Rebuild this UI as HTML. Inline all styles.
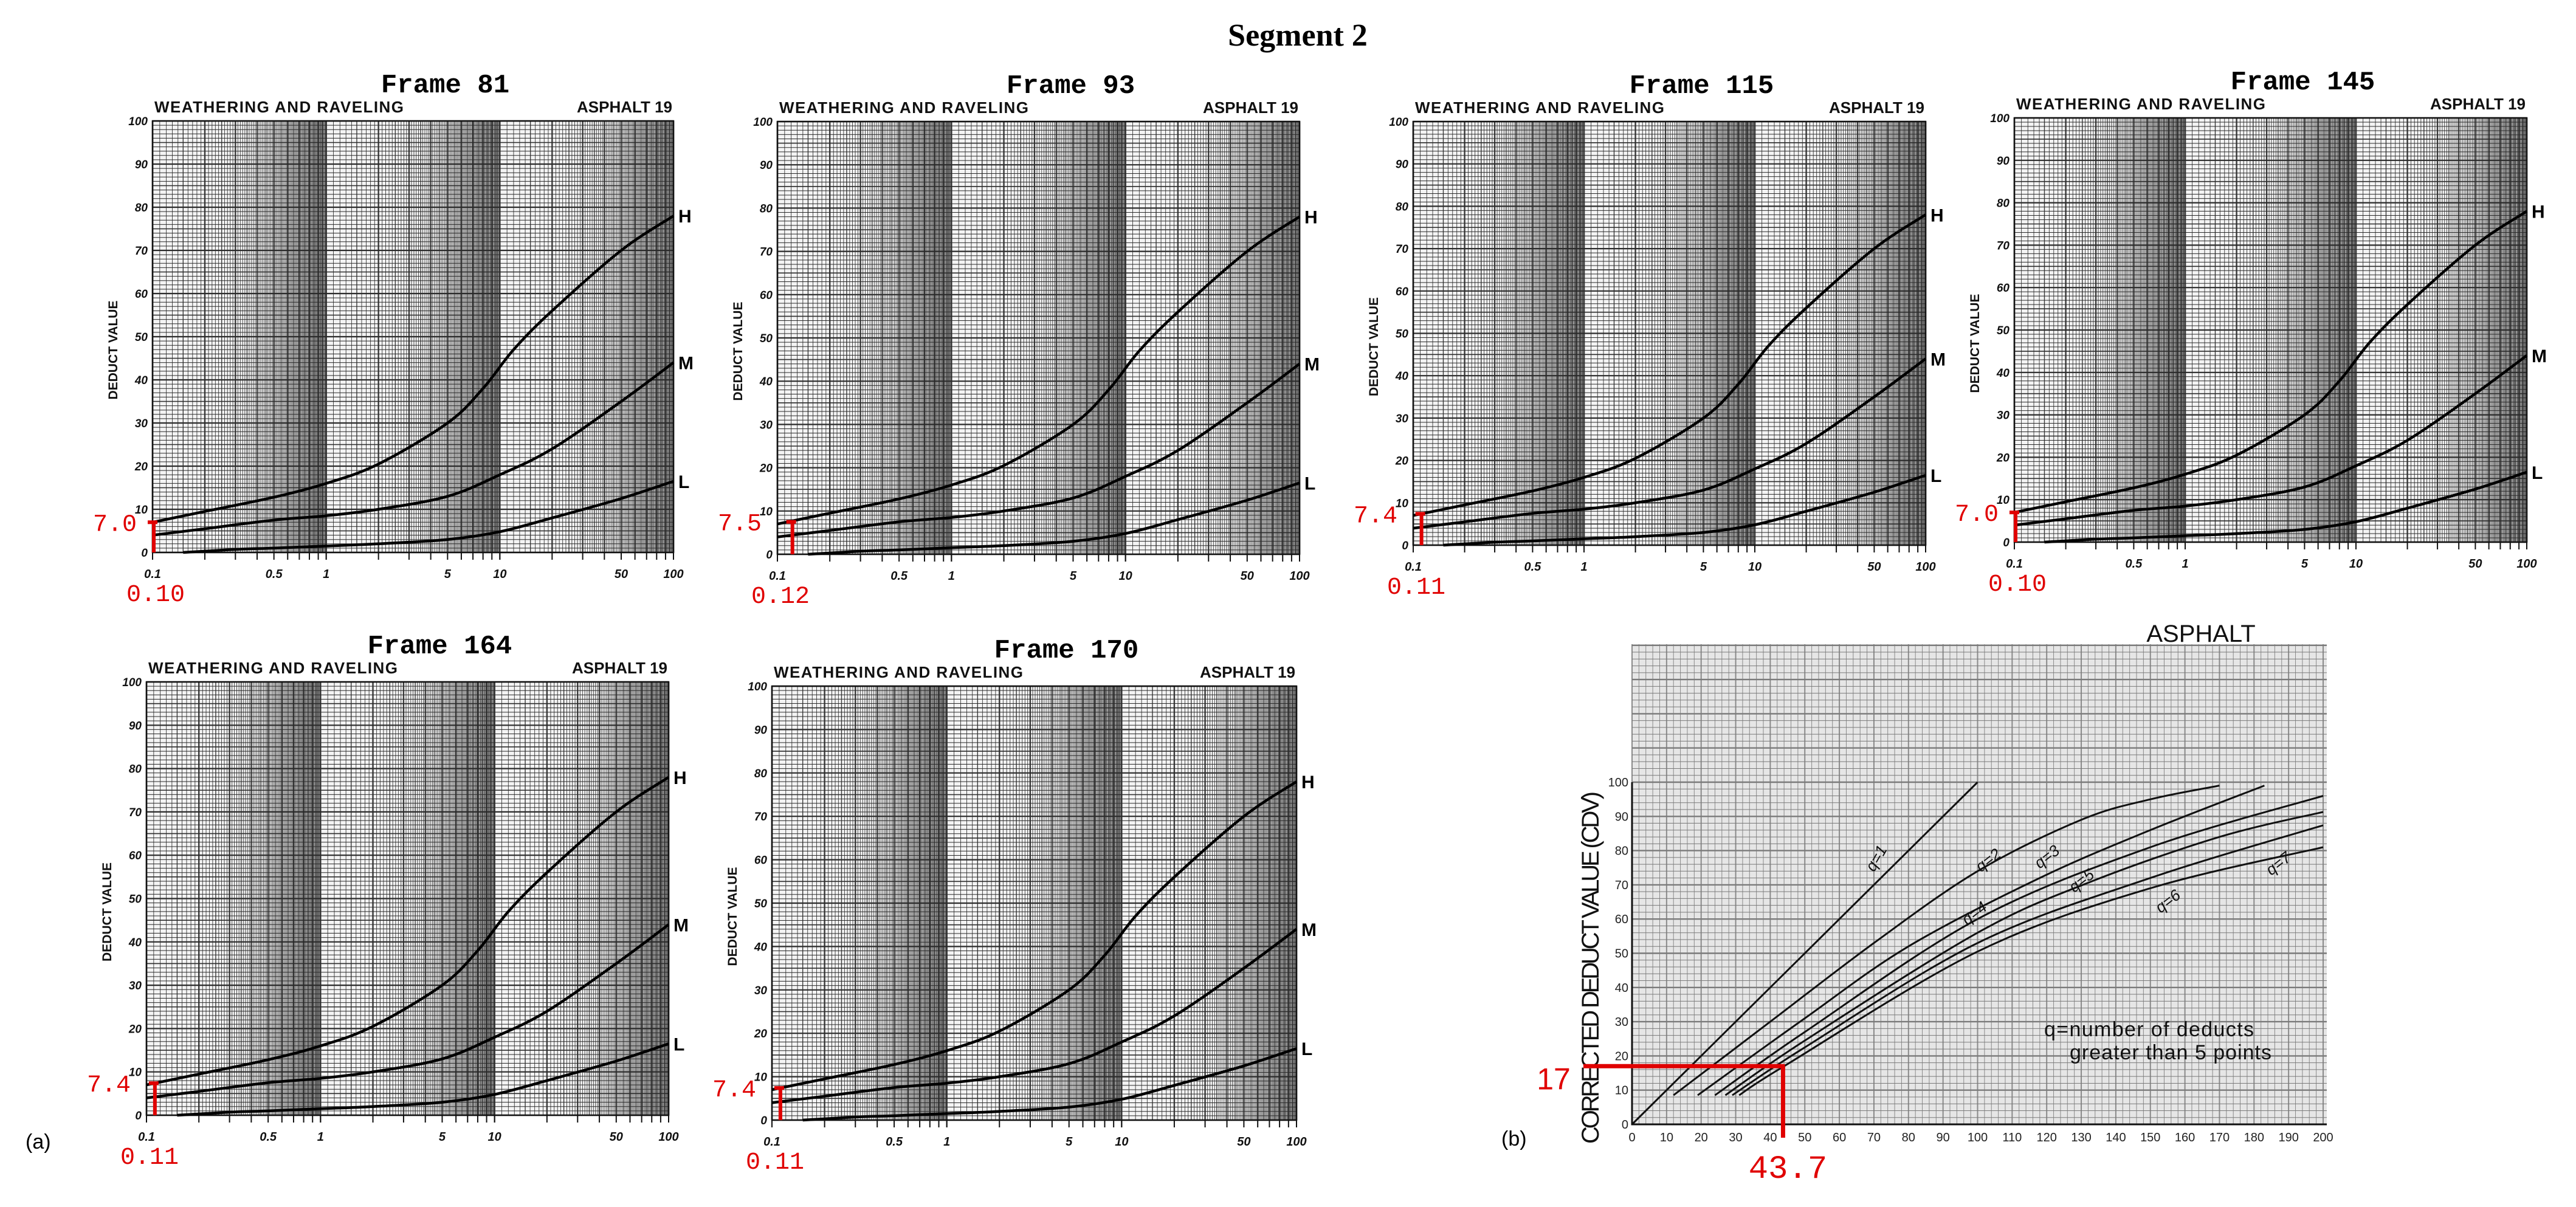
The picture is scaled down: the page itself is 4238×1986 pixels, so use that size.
<!DOCTYPE html>
<html><head><meta charset="utf-8"><style>
html,body{margin:0;padding:0;background:#fff;}
svg{display:block;}
</style></head><body>
<svg id="fig" xmlns="http://www.w3.org/2000/svg" width="4238" height="1986" viewBox="0 0 4238 1986">
<rect x="0" y="0" width="4238" height="1986" fill="#fff"/>
<text x="2135" y="75" text-anchor="middle" font-family="Liberation Serif, serif" font-weight="bold" font-size="52">Segment 2</text>
<text x="42" y="1890" font-family="Liberation Sans, sans-serif" font-size="34">(a)</text>
<text x="2470" y="1885" font-family="Liberation Sans, sans-serif" font-size="34">(b)</text>
</svg>
<script>
// ---- data for deduct value curves (density % vs deduct value) ----
const hDensity = [0.1, 0.2, 0.5, 1, 2, 5, 8, 12, 20, 50, 100];
const hValue   = [7, 9.5, 12.8, 16, 20.5, 30, 38, 47, 56, 70, 78];
const mDensity = [0.1, 0.2, 0.5, 1, 2, 5, 10, 20, 50, 100];
const mValue   = [4, 5.5, 7.5, 8.5, 10, 13, 18, 24, 35, 44];
const lDensity = [0.15, 0.3, 0.5, 1, 2, 5, 10, 20, 50, 100];
const lValue   = [0, 0.7, 1, 1.5, 2, 3, 4.8, 8, 12.5, 16.5];
const xTickLabels = ["0.1", "0.5", "1", "5", "10", "50", "100"];
const xTickValues = [0.1, 0.5, 1, 5, 10, 50, 100];
const yTickValues = [0, 10, 20, 30, 40, 50, 60, 70, 80, 90, 100];
const frameNames = ["Frame 81", "Frame 93", "Frame 115", "Frame 145", "Frame 164", "Frame 170"];
const frameDensity = [0.10, 0.12, 0.11, 0.10, 0.11, 0.11];
const frameDeduct = [7.0, 7.5, 7.4, 7.0, 7.4, 7.4];
const frameDensityLabels = ["0.10", "0.12", "0.11", "0.10", "0.11", "0.11"];
const frameDeductLabels = ["7.0", "7.5", "7.4", "7.0", "7.4", "7.4"];

// ---- data for CDV chart ----
const cdvQ = ["q=1", "q=2", "q=3", "q=4", "q=5", "q=6", "q=7"];
const cdvX = [
  [0, 100],
  [12, 40, 70, 100, 130, 150, 170],
  [19, 50, 80, 118, 150, 183],
  [24, 50, 100, 150, 200],
  [27, 50, 100, 132, 170, 200],
  [29, 50, 100, 150, 200],
  [31, 44, 100, 150, 200]
];
const cdvY = [
  [0, 100],
  [8.5, 30, 53, 74, 89, 95, 99],
  [8.5, 31, 52, 72, 86, 99],
  [8.5, 27, 60, 81, 96],
  [8.5, 24.5, 56, 70.6, 84, 91.3],
  [8.5, 22.5, 53, 72, 87.4],
  [8.5, 17, 50.5, 69, 81]
];
const cdvLabelX = [72, 104, 121, 100, 131, 156, 188];
const cdvLabelY = [77, 76, 77, 60.5, 70, 64, 75];
const cdvRedX = 43.7, cdvRedY = 17;
const cdvXTicks = [0,10,20,30,40,50,60,70,80,90,100,110,120,130,140,150,160,170,180,190,200];
const cdvYTicks = [0,10,20,30,40,50,60,70,80,90,100];

const NS = "http://www.w3.org/2000/svg";
const svg = document.getElementById('fig');
function mk(tag, attrs, parent) {
  const e = document.createElementNS(NS, tag);
  for (const k in attrs) e.setAttribute(k, attrs[k]);
  (parent || svg).appendChild(e);
  return e;
}
function txt(s, attrs, parent) { const e = mk('text', attrs, parent); e.textContent = s; return e; }
function catmull(pts) {
  let d = "M" + pts[0][0].toFixed(1) + "," + pts[0][1].toFixed(1);
  for (let i = 0; i < pts.length - 1; i++) {
    const p0 = pts[Math.max(0, i - 1)], p1 = pts[i], p2 = pts[i + 1], p3 = pts[Math.min(pts.length - 1, i + 2)];
    const c1 = [p1[0] + (p2[0] - p0[0]) / 6, p1[1] + (p2[1] - p0[1]) / 6];
    const c2 = [p2[0] - (p3[0] - p1[0]) / 6, p2[1] - (p3[1] - p1[1]) / 6];
    d += " C" + c1[0].toFixed(1) + "," + c1[1].toFixed(1) + " " + c2[0].toFixed(1) + "," + c2[1].toFixed(1) + " " + p2[0].toFixed(1) + "," + p2[1].toFixed(1);
  }
  return d;
}

// panel layout (pixel boxes)
const panels = [
  {l:251, r:1108, t:199, b:909},
  {l:1279, r:2138, t:200, b:912},
  {l:2325, r:3168, t:200, b:897},
  {l:3314, r:4157, t:194, b:892},
  {l:241, r:1100, t:1122, b:1835},
  {l:1270, r:2133, t:1129, b:1843}
];

panels.forEach((P, i) => {
  const g = mk('g', {});
  
  
  const xs = v => P.l + (Math.log10(v) + 1) / 3 * (P.r - P.l);
  const ys = v => P.b - v / 100 * (P.b - P.t);
  const bg = mk('rect', {x:P.l, y:P.t, width:P.r - P.l, height:P.b - P.t, fill:'#f4f4f4'}, g);
  
  
  const gv = mk('g', {stroke:'#3a3a3a'}, g);
  
  
  for (let dec = 0.1; dec < 100; dec *= 10) {
    for (let k = 10; k <= 100; k++) {
      const v = dec * k / 10;
      const x = xs(v);
      const major = (k % 10 === 0);
      const mid = (k % 5 === 0);
      mk('line', {x1:x, x2:x, y1:P.t, y2:P.b, 'stroke-width': major ? 2.4 : (mid ? 1.4 : 0.9)}, gv);
    }
  }
  const gh = mk('g', {stroke:'#2a2a2a'}, g);
  
  
  for (let v = 0; v <= 100; v++) {
    const y = ys(v);
    mk('line', {x1:P.l, x2:P.r, y1:y, y2:y, 'stroke-width': v % 10 === 0 ? 2.2 : (v % 5 === 0 ? 1.6 : 1)}, gh);
  }
  const border = mk('rect', {x:P.l, y:P.t, width:P.r - P.l, height:P.b - P.t, fill:'none', stroke:'#111', 'stroke-width':2.5}, g);
  
  
  for (let dec = 0.1; dec < 100; dec *= 10) {
    for (let k = 1; k <= 10; k++) {
      const x = xs(dec * k);
      const t = mk('line', {x1:x, x2:x, y1:P.b, y2:P.b + 12, stroke:'#111', 'stroke-width':2}, g);
      
      
    }
  }
  xTickValues.forEach((v, k) => {
    const t = txt(xTickLabels[k], {x:xs(v), y:P.b + 42, 'text-anchor':'middle', 'font-family':'Liberation Sans, sans-serif', 'font-style':'italic', 'font-weight':'bold', 'font-size':20, fill:'#111'}, g);
    
    
  });
  yTickValues.forEach(v => {
    const t = txt(String(v), {x:P.l - 8, y:ys(v) + 7, 'text-anchor':'end', 'font-family':'Liberation Sans, sans-serif', 'font-style':'italic', 'font-weight':'bold', 'font-size':19, fill:'#111'}, g);
    
    
  });
  const yl = txt('DEDUCT  VALUE', {x:0, y:0, 'text-anchor':'middle', 'font-family':'Liberation Sans, sans-serif', 'font-weight':'bold', 'font-size':21, fill:'#111', transform:'translate(' + (P.l - 58) + ',' + ((P.t + P.b) / 2 + 22) + ') rotate(-90)'}, g);
  
  
  const h1 = txt('WEATHERING  AND  RAVELING', {x:P.l + 3, y:P.t - 14, 'font-family':'Liberation Sans, sans-serif', 'font-weight':'bold', 'font-size':26, textLength:410, fill:'#111'}, g);
  
  
  const h2 = txt('ASPHALT  19', {x:P.r - 2, y:P.t - 14, 'text-anchor':'end', 'font-family':'Liberation Sans, sans-serif', 'font-weight':'bold', 'font-size':26, fill:'#111'}, g);
  
  
  const ft = txt(frameNames[i], {x:(P.l + P.r) / 2 + 53, y:P.t - 47, 'text-anchor':'middle', 'font-family':'Liberation Mono, monospace', 'font-weight':'bold', 'font-size':44, fill:'#000'}, g);
  
  
  const series = [[hDensity, hValue, 'H'], [mDensity, mValue, 'M'], [lDensity, lValue, 'L']];
  series.forEach(s => {
    const pts = s[0].map((d, k) => [xs(d), ys(s[1][k])]);
    const c = mk('path', {d:catmull(pts), fill:'none', stroke:'#000', 'stroke-width':4.5}, g);
    
    
    const last = pts[pts.length - 1];
    const lb = txt(s[2], {x:P.r + 8, y:last[1] + 11, 'font-family':'Liberation Sans, sans-serif', 'font-weight':'bold', 'font-size':30, fill:'#000'}, g);
    
    
  });
  const rx = xs(frameDensity[i]), ry = ys(frameDeduct[i]);
  const rv = mk('line', {x1:rx + 2, x2:rx + 2, y1:P.b, y2:ry, stroke:'#e00000', 'stroke-width':6}, g);
  
  
  const rh = mk('line', {x1:rx - 8, x2:rx + 8, y1:ry, y2:ry, stroke:'#e00000', 'stroke-width':6}, g);
  
  
  const rl1 = txt(frameDeductLabels[i], {x:P.l - 26, y:ry + 14, 'text-anchor':'end', 'font-family':'Liberation Mono, monospace', 'font-size':40, fill:'#e00000'}, g);
  
  
  const rl2 = txt(frameDensityLabels[i], {x:P.l + 5, y:P.b + 80, 'text-anchor':'middle', 'font-family':'Liberation Mono, monospace', 'font-size':40, fill:'#e00000'}, g);
  
  
});

(function () {
  const B = {l:2685, r:3822, t:1060, b:1850, y100:1287};
  const g = mk('g', {});
  
  
  const xs = v => B.l + v / 200 * (B.r - B.l);
  const ys = v => B.b - v / 100 * (B.b - B.y100);
  const bg = mk('rect', {x:B.l, y:B.t, width:B.r - B.l + 6, height:B.b - B.t, fill:'#e6e6e6'}, g);
  
  
  const gv = mk('g', {stroke:'#8a8a8a'}, g);
  
  
  for (let v = 0; v <= 201; v += 2) {
    const x = xs(v);
    mk('line', {x1:x, x2:x, y1:B.t, y2:B.b, 'stroke-width': v % 10 === 0 ? 2 : 1}, gv);
  }
  const gh = mk('g', {stroke:'#7a7a7a'}, g);
  
  
  for (let v = 0; ys(v) >= B.t; v += 2) {
    const y = ys(v);
    mk('line', {x1:B.l, x2:B.r + 6, y1:y, y2:y, 'stroke-width': v % 10 === 0 ? 2.4 : 1}, gh);
  }
  const ax = mk('path', {d:'M' + B.l + ',' + ys(100) + ' L' + B.l + ',' + B.b + ' L' + (B.r + 6) + ',' + B.b, fill:'none', stroke:'#111', 'stroke-width':3}, g);
  
  
  cdvXTicks.forEach(v => {
    const t = txt(String(v), {x:xs(v), y:B.b + 28, 'text-anchor':'middle', 'font-family':'Liberation Sans, sans-serif', 'font-size':20, fill:'#222'}, g);
    
    
  });
  cdvYTicks.forEach(v => {
    const t = txt(String(v), {x:B.l - 6, y:ys(v) + 7, 'text-anchor':'end', 'font-family':'Liberation Sans, sans-serif', 'font-size':20, fill:'#222'}, g);
    
    
  });
  const yt = txt('CORRECTED DEDUCT VALUE (CDV)', {x:0, y:0, 'text-anchor':'middle', 'font-family':'Liberation Sans, sans-serif', 'font-size':40, textLength:580, fill:'#111', transform:'translate(2630,1592) rotate(-90)'}, g);
  
  
  const at = txt('ASPHALT', {x:3621, y:1056, 'text-anchor':'middle', 'font-family':'Liberation Sans, sans-serif', 'font-size':40, fill:'#111'}, g);
  
  
  cdvQ.forEach((q, k) => {
    const pts = cdvX[k].map((x, j) => [xs(x), ys(cdvY[k][j])]);
    const c = mk('path', {d:catmull(pts), fill:'none', stroke:'#111', 'stroke-width':3}, g);
    
    
    const lx = xs(cdvLabelX[k]), ly = ys(cdvLabelY[k]);
    const lb = txt(q, {x:lx, y:ly, 'text-anchor':'middle', 'font-family':'Liberation Sans, sans-serif', 'font-style':'italic', 'font-size':26, fill:'#111', transform:'rotate(' + (k === 0 ? -60 : -38) + ' ' + lx + ' ' + ly + ')'}, g);
    
    
  });
  const n1 = txt('q=number  of  deducts', {x:3363, y:1705, 'font-family':'Liberation Sans, sans-serif', 'font-size':34, textLength:345, fill:'#111'}, g);
  
  
  const n2 = txt('greater  than 5 points', {x:3405, y:1743, 'font-family':'Liberation Sans, sans-serif', 'font-size':34, textLength:332, fill:'#111'}, g);
  
  
  const rh = mk('line', {x1:2605, x2:xs(cdvRedX) + 3, y1:ys(cdvRedY), y2:ys(cdvRedY), stroke:'#e00000', 'stroke-width':7}, g);
  
  
  const rv = mk('line', {x1:xs(cdvRedX), x2:xs(cdvRedX), y1:ys(cdvRedY), y2:B.b + 22, stroke:'#e00000', 'stroke-width':7}, g);
  
  
  const l1 = txt('17', {x:2556, y:ys(cdvRedY) + 38, 'text-anchor':'middle', 'font-family':'Liberation Sans, sans-serif', 'font-size':50, fill:'#e00000'}, g);
  
  
  const l2 = txt('43.7', {x:xs(cdvRedX) + 8, y:1938, 'text-anchor':'middle', 'font-family':'Liberation Mono, monospace', 'font-size':54, fill:'#e00000'}, g);
  
  
})();
</script>
</body></html>
